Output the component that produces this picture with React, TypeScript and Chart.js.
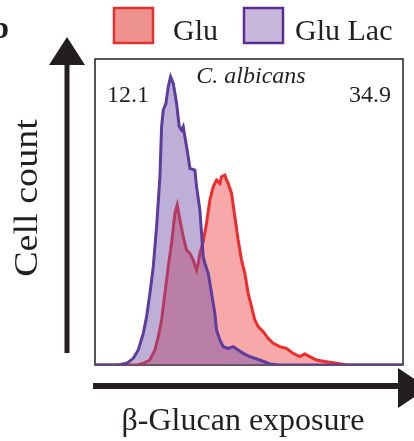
import React, { useEffect, useRef } from "react";
import { Chart, registerables } from "chart.js";

Chart.register(...registerables);

// beta-glucan exposure (channel) vs cell count
const gluX = [0, 125, 145, 165, 180, 190, 200, 210, 220, 230, 240, 247, 255, 265, 275, 285, 295, 305, 310, 315, 325, 335, 345, 355, 365, 375, 380, 390, 395, 400, 410, 420, 430, 440, 450, 460, 470, 480, 490, 505, 520, 535, 555, 575, 595, 615, 630, 645, 665, 695, 725, 755, 925];
const gluY = [0, 0, 5, 15, 45, 85, 135, 215, 295, 365, 455, 480, 435, 385, 345, 335, 315, 285, 305, 335, 370, 425, 495, 535, 555, 545, 565, 570, 555, 545, 515, 445, 375, 315, 275, 215, 175, 135, 115, 100, 80, 65, 55, 50, 35, 25, 33, 25, 15, 10, 5, 0, 0];

const gluLacX = [0, 70, 95, 115, 130, 145, 155, 165, 175, 185, 195, 200, 205, 213, 220, 227, 235, 245, 253, 260, 265, 270, 280, 285, 300, 305, 315, 320, 325, 330, 340, 350, 360, 365, 375, 385, 400, 415, 430, 445, 465, 495, 525, 555, 925];
const gluLacY = [0, 0, 5, 20, 45, 95, 145, 215, 295, 415, 565, 715, 765, 785, 835, 865, 845, 785, 715, 705, 715, 685, 625, 590, 585, 535, 465, 395, 325, 305, 275, 215, 155, 105, 75, 55, 50, 55, 45, 35, 25, 15, 3, 0, 0];

const seriesNames = ["Glu", "Glu Lac"];
const leftValue = "12.1";
const rightValue = "34.9";
const species = "C. albicans";
const xTitle = "β-Glucan exposure";
const yTitle = "Cell count";

const SERIF = "'Liberation Serif', 'Times New Roman', serif";

const decor = {
  id: "decor",
  beforeDatasetsDraw(chart: any) {
    const { ctx, chartArea: a } = chart;
    ctx.save();
    ctx.strokeStyle = "#231f20";
    ctx.lineWidth = 1.5;
    ctx.strokeRect(a.left, a.top, a.right - a.left, a.bottom - a.top);
    ctx.restore();
  },
  afterDraw(chart: any) {
    const { ctx } = chart;
    ctx.save();
    ctx.fillStyle = "#231f20";
    // y arrow
    ctx.fillRect(64.5, 62, 5, 291);
    ctx.beginPath();
    ctx.moveTo(49, 65);
    ctx.lineTo(85, 65);
    ctx.lineTo(67, 37);
    ctx.closePath();
    ctx.fill();
    // x arrow
    ctx.fillRect(93, 383, 308, 6);
    ctx.beginPath();
    ctx.moveTo(398, 368);
    ctx.lineTo(398, 408);
    ctx.lineTo(428, 388);
    ctx.closePath();
    ctx.fill();

    // panel letter
    ctx.font = `bold 32px ${SERIF}`;
    ctx.textAlign = "right";
    ctx.textBaseline = "alphabetic";
    ctx.fillText("b", 9, 38);

    // in-plot texts
    ctx.font = `24px ${SERIF}`;
    ctx.textAlign = "left";
    ctx.fillText(leftValue, 107, 102);
    ctx.textAlign = "right";
    ctx.fillText(rightValue, 391, 102);
    ctx.font = `italic 24px ${SERIF}`;
    ctx.textAlign = "center";
    ctx.fillText(species, 251, 83);

    // x title
    ctx.font = `32px ${SERIF}`;
    ctx.textAlign = "center";
    ctx.fillText(xTitle, 243, 430);

    // y title
    ctx.save();
    ctx.translate(37, 198);
    ctx.rotate(-Math.PI / 2);
    ctx.scale(1.12, 1);
    ctx.font = `34px ${SERIF}`;
    ctx.textAlign = "center";
    ctx.fillText(yTitle, 0, 0);
    ctx.restore();

    // legend
    const boxes = [
      { x: 114, fill: "#ee9290", stroke: "#e2312e", text: seriesNames[0], tx: 173 },
      { x: 244, fill: "#c8b8dc", stroke: "#5b2c94", text: seriesNames[1], tx: 295 },
    ];
    ctx.lineWidth = 2.5;
    ctx.font = `30px ${SERIF}`;
    ctx.textAlign = "left";
    for (const b of boxes) {
      ctx.fillStyle = b.fill;
      ctx.fillRect(b.x, 8, 39, 35);
      ctx.strokeStyle = b.stroke;
      ctx.strokeRect(b.x, 8, 39, 35);
      ctx.fillStyle = "#231f20";
      ctx.fillText(b.text, b.tx, 40);
    }
    ctx.restore();
  },
};

export default function App() {
  const ref = useRef<HTMLCanvasElement>(null);
  useEffect(() => {
    if (!ref.current) return;
    const chart = new Chart(ref.current, {
      type: "line",
      data: {
        datasets: [
          {
            label: seriesNames[0],
            data: gluX.map((x, i) => ({ x, y: gluY[i] })),
            borderColor: "#ee2a2a",
            backgroundColor: "rgba(235,40,40,0.4)",
            borderWidth: 3,
            fill: "origin",
            pointRadius: 0,
            tension: 0,
            order: 1,
          },
          {
            label: seriesNames[1],
            data: gluLacX.map((x, i) => ({ x, y: gluLacY[i] })),
            borderColor: "#5d3c9e",
            backgroundColor: "rgba(111,78,167,0.45)",
            borderWidth: 3,
            fill: "origin",
            pointRadius: 0,
            tension: 0,
            order: 0,
          },
        ],
      },
      options: {
        animation: false,
        responsive: false,
        events: [],
        layout: { padding: { left: 95, top: 59, right: 11, bottom: 76 } },
        plugins: { legend: { display: false }, tooltip: { enabled: false } },
        scales: {
          x: { type: "linear", min: 0, max: 925, display: false },
          y: { type: "linear", min: 0, max: 918, display: false },
        },
      },
      plugins: [decor],
    });
    return () => chart.destroy();
  }, []);
  return (
    <div style={{ position: "absolute", left: 0, top: 0, width: 414, height: 441, background: "#fff" }}>
      <canvas ref={ref} width={414} height={441} style={{ display: "block" }} />
    </div>
  );
}
